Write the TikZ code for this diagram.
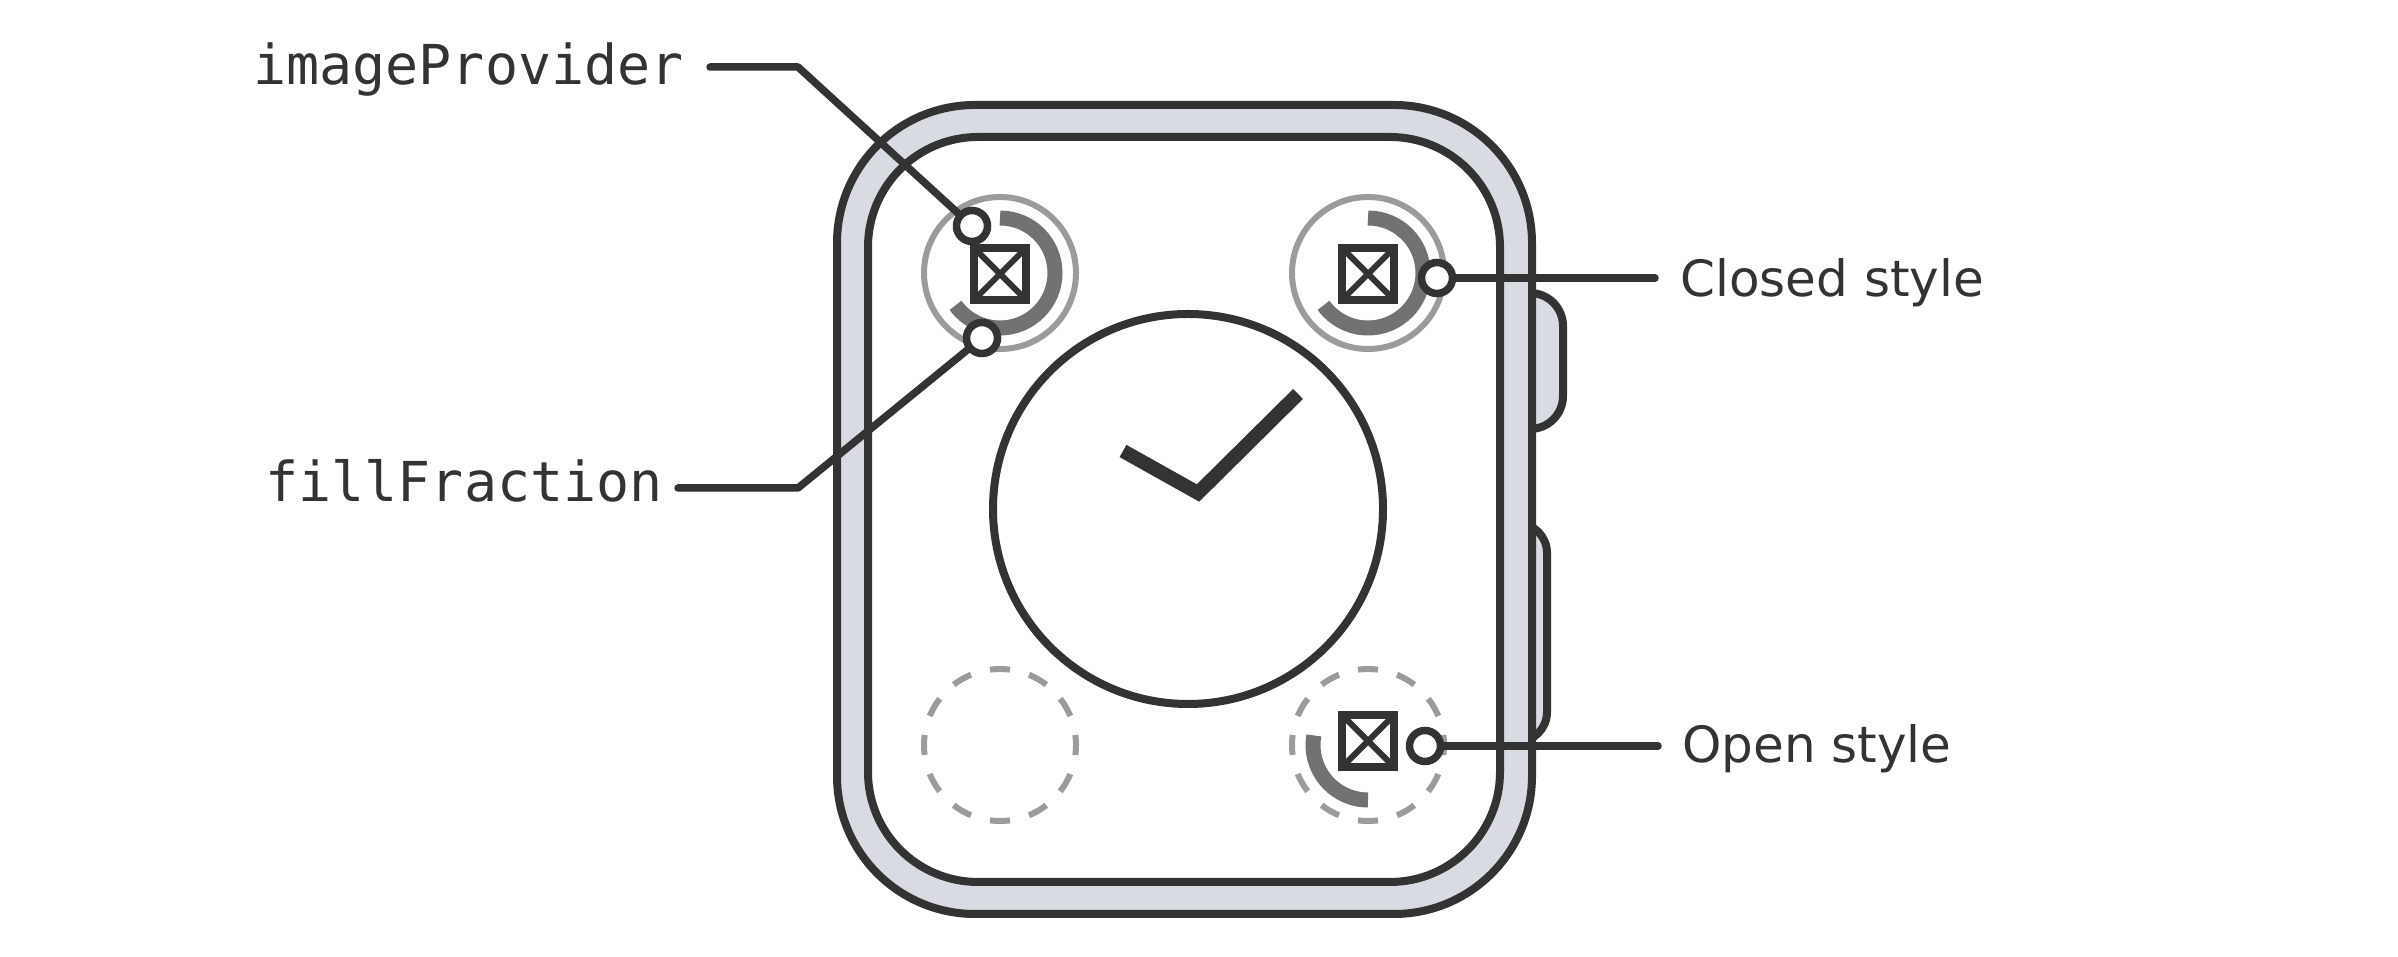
\documentclass[tikz,border=0pt]{standalone}
\usepackage{fontspec}
\setmainfont{DejaVu Sans}
\setmonofont{DejaVu Sans Mono}
\usetikzlibrary{calc}
\definecolor{watchink}{HTML}{333333}
\definecolor{watchcase}{HTML}{D8DBE2}
\definecolor{ringgray}{HTML}{9B9B9B}
\definecolor{arcgray}{HTML}{727272}
% placeholder image: box with a cross
\newcommand{\imageicon}[2]{%
  \draw[watchink,line width=8pt,line join=miter] (#1,#2) ++(-26,-26) rectangle ++(52,52);
  \draw[watchink,line width=6pt,line cap=butt] (#1,#2) ++(-26,-26) -- ++(52,52)
    (#1,#2) ++(-26,26) -- ++(52,-52);}

\begin{document}
\begin{tikzpicture}[x=1pt,y=1pt,line cap=round,
  outline/.style={draw=watchink,line width=8pt},
  ring/.style={ringgray,line width=6pt},
  fillarc/.style={arcgray,line width=15pt,line cap=butt},
  calldot/.style={circle,draw=watchink,fill=white,line width=7.5pt,minimum size=31pt,inner sep=0pt},
  leader/.style={watchink,line width=7.5pt,line join=round},
  codelabel/.style={font=\ttfamily\fontsize{55}{66}\selectfont,text=watchink,inner sep=0pt},
  stylelabel/.style={font=\fontsize{50}{60}\selectfont,text=watchink,inner sep=0pt}]
 \useasboundingbox (0,0) rectangle (2398,957);
 % buttons, case, screen
 \draw[outline,fill=watchcase,rounded corners=33pt] (1490,528) rectangle (1563,664);
 \draw[outline,fill=watchcase,rounded corners=30pt] (1490,215) rectangle (1547,434);
 \draw[outline,fill=watchcase,rounded corners=138pt] (837,43) rectangle (1532,852);
 \draw[outline,fill=white,rounded corners=110pt] (868,75) rectangle (1500,820);
 % main dial
 \draw[outline] (1188,448) circle[radius=195];
 \draw[watchink,line width=14pt,line cap=butt,line join=miter]
   (1123,506) -- (1198,464) -- (1298,563);
 % closed style complications
 \foreach \cx in {1000,1368} {
   \draw[ring] (\cx,684) circle[radius=76];
   \draw[fillarc] (\cx,684) ++(90:55) arc[start angle=90,end angle=-144,radius=55];
   \imageicon{\cx}{683}
 }
 % open style complications
 \foreach \cx in {1000,1368}
   \draw[ring,line cap=butt,dash pattern=on 20pt off 19.79pt,dash phase=10pt]
     (\cx,212) circle[radius=76];
 \draw[fillarc] (1368,212) ++(270:55) arc[start angle=270,end angle=170,radius=55];
 \imageicon{1368}{216}
 % callouts
 \node[calldot] (ipDot) at (972,731) {};
 \node[calldot] (ffDot) at (982,619) {};
 \node[calldot] (csDot) at (1437,679) {};
 \node[calldot] (osDot) at (1425,211) {};
 \node[codelabel,anchor=base east,inner xsep=26pt] (ip) at (710,872) {imageProvider};
 \node[codelabel,anchor=base east,inner xsep=15pt] (ff) at (678,455) {fillFraction};
 \node[stylelabel,anchor=base west,inner xsep=25pt] (cs) at (1655,660) {Closed style};
 \node[stylelabel,anchor=base west,inner xsep=24pt] (os) at (1658,194) {Open style};
 \coordinate (ipKnee) at (798,890);
 \coordinate (ffKnee) at (798,469);
 \draw[leader] (ipKnee -| ip.east) -- (ipKnee) -- (ipDot);
 \draw[leader] (ffKnee -| ff.east) -- (ffKnee) -- (ffDot);
 \draw[leader] (csDot) -- (csDot -| cs.west);
 \draw[leader] (osDot) -- (osDot -| os.west);
\end{tikzpicture}
\end{document}
